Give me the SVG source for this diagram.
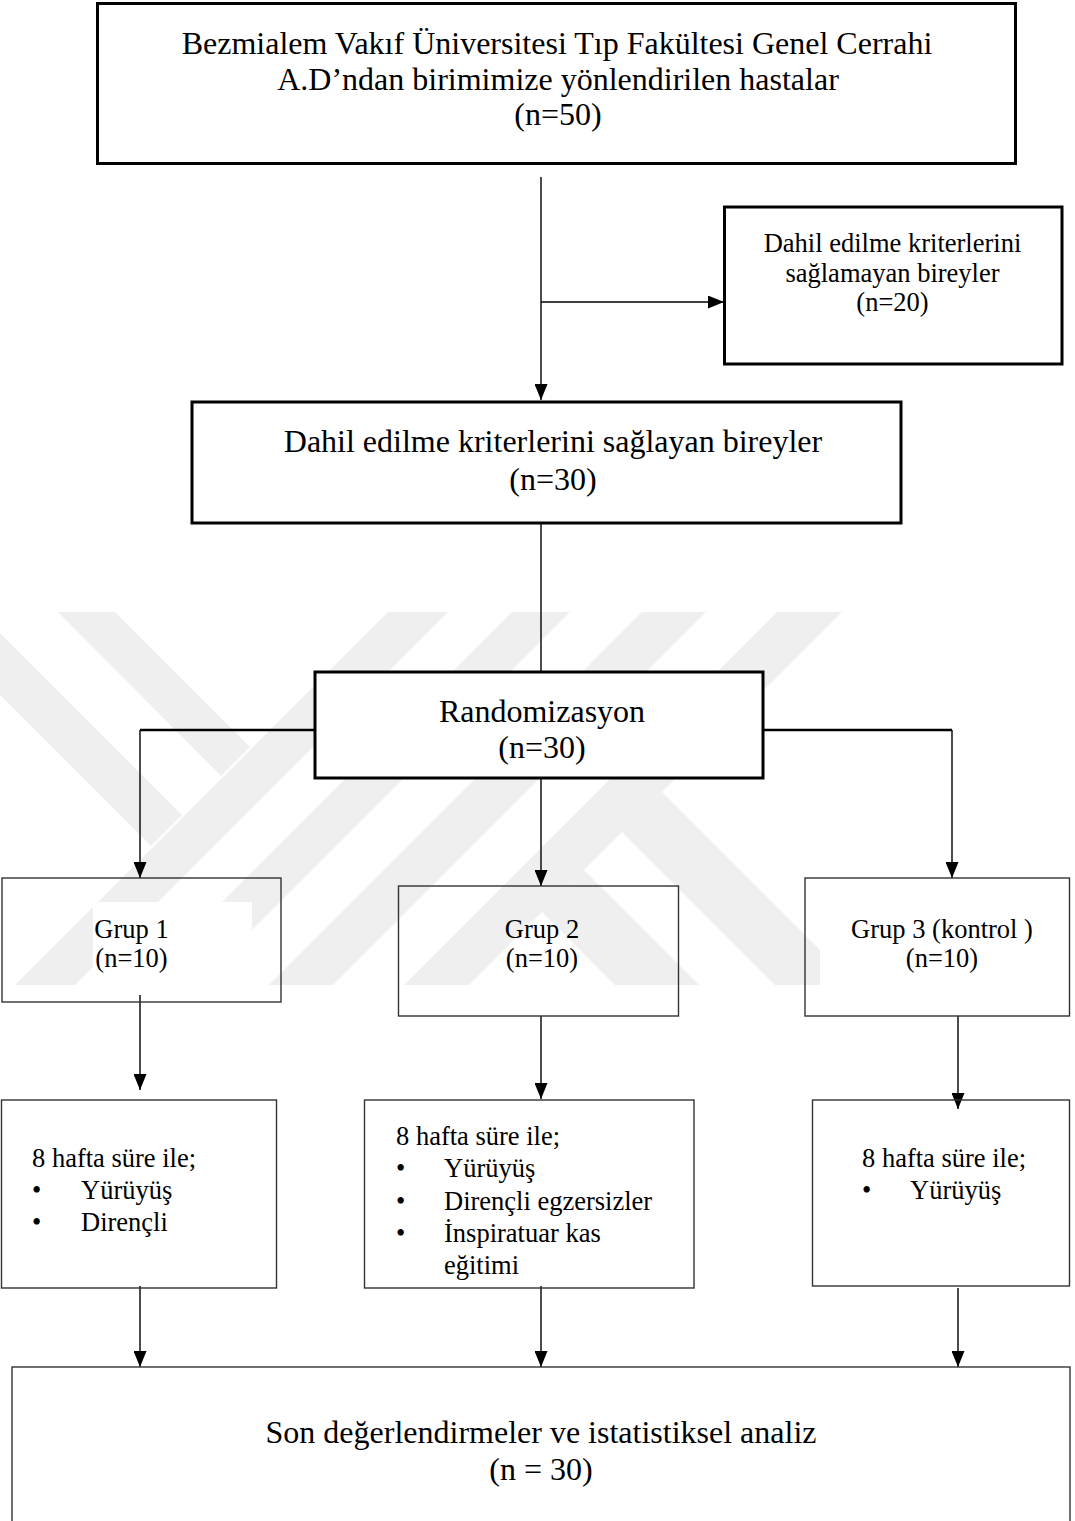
<svg xmlns="http://www.w3.org/2000/svg" width="1075" height="1521" viewBox="0 0 1075 1521">
  <style>
    text { font-family: "Liberation Serif", "Times New Roman", serif; fill: #000; }
    .big { font-size: 32px; }
    .sm { font-size: 26.5px; }
    .mid { text-anchor: middle; }
    .thick { fill: #fff; stroke: #000; stroke-width: 3; }
    .thin { fill: none; stroke: #333; stroke-width: 1.4; }
    .wm { fill: #efefef; stroke: none; }
    .conn { fill: none; stroke: #000; stroke-width: 1.4; }
    .conn-thick { fill: none; stroke: #000; stroke-width: 2.6; }
  </style>
  <defs>
    <marker id="arrow" markerUnits="userSpaceOnUse" markerWidth="16" markerHeight="13" refX="16" refY="6.5" orient="auto">
      <path d="M0,0 L16,6.5 L0,13 z" fill="#000"/>
    </marker>
    <clipPath id="wmclip">
      <rect x="0" y="612" width="1075" height="374"/>
    </clipPath>
  </defs>

  <rect x="0" y="0" width="1075" height="1521" fill="#fff"/>

  <!-- watermark -->
  <g id="watermark" clip-path="url(#wmclip)">
    <polygon class="wm" points="-83,612 -21,612 182,815 151,846"/>
    <polygon class="wm" points="58,612 115,612 250,747 221,776"/>
    <polygon class="wm" points="388,612 448,612 75,985 15,985"/>
    <polygon class="wm" points="512,612 570,612 197,985 139,985"/>
    <polygon class="wm" points="642,612 706,612 333,985 269,985"/>
    <polygon class="wm" points="777,612 842,612 469,985 404,985"/>
    <polygon class="wm" points="662,792 855,985 775,985 622,832"/>
    <polygon class="wm" points="584,870 699,985 615,985 542,912"/>
  </g>

  <!-- white backgrounds behind group texts -->
  <rect x="93" y="902" width="159" height="90" fill="#fff"/>
  <rect x="820" y="902" width="240" height="90" fill="#fff"/>

  <g id="connectors">
    <path class="conn" d="M541,177 V400" marker-end="url(#arrow)"/>
    <path class="conn" d="M541,302 H724" marker-end="url(#arrow)"/>
    <path class="conn" d="M541,515 V672"/>
    <path class="conn-thick" d="M315,730 H140"/>
    <path class="conn" d="M140,730 V878" marker-end="url(#arrow)"/>
    <path class="conn-thick" d="M763,730 H952"/>
    <path class="conn" d="M952,730 V878" marker-end="url(#arrow)"/>
    <path class="conn" d="M541,771 V886" marker-end="url(#arrow)"/>
    <path class="conn" d="M140,995 V1090" marker-end="url(#arrow)"/>
    <path class="conn" d="M541,1016 V1099" marker-end="url(#arrow)"/>
    <path class="conn" d="M958,1016 V1109" marker-end="url(#arrow)"/>
    <path class="conn" d="M140,1286 V1367" marker-end="url(#arrow)"/>
    <path class="conn" d="M541,1286 V1367" marker-end="url(#arrow)"/>
    <path class="conn" d="M958,1288 V1367" marker-end="url(#arrow)"/>
  </g>

  <g id="node-source">
    <rect class="thick" x="97.5" y="3.5" width="918" height="160"/>
    <text class="big mid" x="557" y="54">Bezmialem Vakıf Üniversitesi Tıp Fakültesi Genel Cerrahi</text>
    <text class="big mid" x="558" y="90">A.D’ndan birimimize yönlendirilen hastalar</text>
    <text class="big mid" x="558" y="125">(n=50)</text>
  </g>

  <g id="node-excluded">
    <rect class="thick" x="724.5" y="207" width="337.5" height="157"/>
    <text class="sm mid" x="892.5" y="252">Dahil edilme kriterlerini</text>
    <text class="sm mid" x="892.5" y="282">sağlamayan bireyler</text>
    <text class="sm mid" x="892.5" y="311">(n=20)</text>
  </g>

  <g id="node-included">
    <rect class="thick" x="192" y="402" width="709" height="121" stroke-width="2.6"/>
    <text class="big mid" x="553" y="452">Dahil edilme kriterlerini sağlayan bireyler</text>
    <text class="big mid" x="553" y="490">(n=30)</text>
  </g>

  <g id="node-random">
    <rect class="thick" x="315" y="672" width="448" height="106"/>
    <text class="big mid" x="542" y="722">Randomizasyon</text>
    <text class="big mid" x="542" y="758">(n=30)</text>
  </g>

  <g id="node-grup1">
    <rect class="thin" x="2" y="878" width="279" height="124"/>
    <text class="sm mid" x="131.5" y="938">Grup 1</text>
    <text class="sm mid" x="131.5" y="967">(n=10)</text>
  </g>

  <g id="node-grup2">
    <rect class="thin" x="398.5" y="886" width="280" height="130"/>
    <text class="sm mid" x="542" y="938">Grup 2</text>
    <text class="sm mid" x="542" y="967">(n=10)</text>
  </g>

  <g id="node-grup3">
    <rect class="thin" x="805" y="878" width="264.5" height="138"/>
    <text class="sm mid" x="942" y="938">Grup 3 (kontrol )</text>
    <text class="sm mid" x="942" y="967">(n=10)</text>
  </g>

  <g id="node-program1">
    <rect class="thin" x="1.5" y="1100" width="275" height="188"/>
    <text class="sm" x="32" y="1167">8 hafta süre ile;</text>
    <text class="sm" x="32" y="1199">•</text>
    <text class="sm" x="81" y="1199">Yürüyüş</text>
    <text class="sm" x="32" y="1231">•</text>
    <text class="sm" x="81" y="1231">Dirençli</text>
  </g>

  <g id="node-program2">
    <rect class="thin" x="364.5" y="1100" width="329.5" height="188"/>
    <text class="sm" x="396" y="1145">8 hafta süre ile;</text>
    <text class="sm" x="396" y="1177">•</text>
    <text class="sm" x="444" y="1177">Yürüyüş</text>
    <text class="sm" x="396" y="1210">•</text>
    <text class="sm" x="444" y="1210">Dirençli egzersizler</text>
    <text class="sm" x="396" y="1242">•</text>
    <text class="sm" x="444" y="1242">İnspiratuar kas</text>
    <text class="sm" x="444" y="1274">eğitimi</text>
  </g>

  <g id="node-program3">
    <rect class="thin" x="812.5" y="1100" width="257" height="186"/>
    <text class="sm" x="862" y="1167">8 hafta süre ile;</text>
    <text class="sm" x="862" y="1199">•</text>
    <text class="sm" x="910" y="1199">Yürüyüş</text>
  </g>

  <g id="node-final">
    <rect class="thin" x="12" y="1367" width="1058" height="200" stroke-width="1.6"/>
    <text class="big mid" x="541" y="1443">Son değerlendirmeler ve istatistiksel analiz</text>
    <text class="big mid" x="541" y="1480">(n = 30)</text>
  </g>
</svg>
